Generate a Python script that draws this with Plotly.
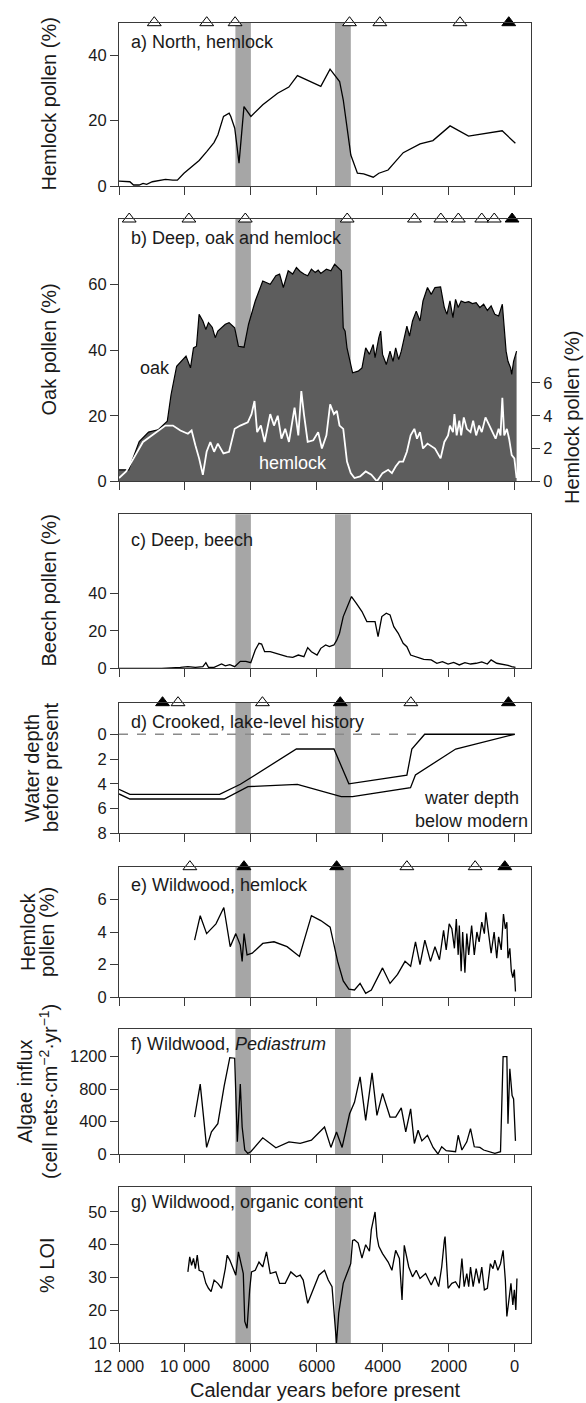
import plotly.graph_objects as go

W, H = 586, 1403
L, R = 119, 55
FONT = "Liberation Sans, Arial, Helvetica, sans-serif"

# ---------------- data ----------------
bands = [(8470, 8000), (5450, 4970)]
x_ticks = [12000, 10000, 8000, 6000, 4000, 2000, 0]
x_ticktext = ["12 000", "10 000", "8000", "6000", "4000", "2000", "0"]

# a) North, hemlock
a_years = [12000, 11840, 11670, 11560, 11390, 11270, 11160, 10990, 10820, 10590,
           10370, 10230, 10030, 9800, 9570, 9340, 9120, 9000, 8830, 8660,
           8610, 8490, 8360, 8210, 8000, 7640, 7190, 6850, 6590, 5880,
           5600, 5310, 5200, 4970, 4770, 4580, 4290, 4120, 3840, 3380,
           2870, 2480, 1960, 1400, 380, -20]
a_hemlock = [1.5, 1.3, 1.3, 0.3, 0.3, 0.8, 0.5, 1.3, 1.6, 2.0,
             1.8, 1.8, 3.9, 5.9, 7.8, 10.5, 13.3, 15.7, 21.3, 22.3,
             21.3, 17.7, 7.0, 24.3, 21.3, 24.9, 28.4, 30.3, 33.8, 30.5,
             35.8, 32.0, 26.4, 9.5, 3.9, 3.7, 2.7, 3.9, 4.9, 10.2,
             12.9, 13.9, 18.4, 15.3, 16.9, 13.1]
a_dates_open = [10930, 9340, 8480, 5010, 4090, 1660]
a_dates_filled = [180]

# b) Deep, oak and hemlock
b_oak_years = [12000, 11705, 11614, 11387, 11103, 10819, 10536, 10422, 10252, 9968,
               9832, 9741, 9650, 9571, 9457, 9366, 9287, 9173, 9082, 9003,
               8776, 8662, 8492, 8379, 8208, 8071, 7868, 7641, 7414, 7243,
               7130, 7016, 6869, 6732, 6619, 6505, 6392, 6278, 6165, 6051,
               5960, 5881, 5710, 5574, 5461, 5370, 5256, 5200, 5143, 5086,
               4916, 4746, 4632, 4519, 4405, 4291, 4235, 4121, 4064, 4008,
               3894, 3781, 3690, 3610, 3519, 3440, 3349, 3270, 3190, 3099,
               2986, 2872, 2781, 2645, 2532, 2418, 2248, 2134, 2055, 1964,
               1873, 1794, 1714, 1624, 1510, 1396, 1283, 1169, 1056, 942,
               829, 715, 602, 488, 375, 318, 261, 204, 125, 91,
               34, -57]
b_oak = [3.5, 3.5, 6, 12.1, 15, 15.7, 18.3, 26.4, 35.1, 38.2,
         34.6, 40.7, 41.2, 50.9, 48.9, 46.3, 48.4, 47, 43.8, 45.8,
         47.9, 48.4, 46.8, 41.2, 40.9, 47.9, 55, 61.1, 60.1, 62.7,
         63.2, 59.1, 64.2, 63.2, 65.2, 64, 63.2, 62.7, 64.7, 63.7,
         64.4, 63.4, 64.7, 64.2, 66.2, 65.2, 64.2, 46.8, 45.8, 40.7,
         33.1, 33.6, 34.6, 40.7, 38.7, 41.7, 37.7, 43.8, 45.8, 38.7,
         35.6, 39.7, 36.6, 40.7, 37.1, 39.7, 43.8, 47.3, 44.3, 48.9,
         51.9, 48.9, 55, 59.1, 57, 59.1, 59.3, 53, 50.9, 55,
         49.9, 55.5, 53, 55, 54.5, 54.8, 54.2, 54.5, 53, 54,
         52.1, 53.5, 50.9, 50.4, 54, 46.8, 39.7, 36.6, 34.6, 32.6,
         36.6, 39.7]
b_hem_years = [12000, 11784, 11614, 11274, 10933, 10592, 10365, 10138, 9911, 9798,
               9684, 9571, 9457, 9343, 9230, 9116, 9003, 8833, 8662, 8492,
               8322, 8095, 7982, 7891, 7811, 7698, 7584, 7414, 7300, 7186,
               7073, 6959, 6846, 6676, 6562, 6471, 6392, 6278, 6108, 5960,
               5847, 5710, 5597, 5483, 5393, 5313, 5200, 5086, 4973, 4859,
               4689, 4519, 4348, 4178, 4008, 3837, 3724, 3610, 3497, 3383,
               3270, 3156, 3043, 2963, 2872, 2781, 2645, 2418, 2248, 2134,
               2021, 1964, 1873, 1828, 1760, 1680, 1624, 1544, 1453, 1340,
               1260, 1169, 1079, 999, 886, 772, 658, 579, 488, 431,
               375, 318, 238, 170, 91, 11, -57]
b_hemlock = [0.2, 0.6, 1.2, 2.4, 2.9, 3.4, 3.4, 3.1, 2.9, 3.1,
             2.2, 1.4, 0.4, 1.8, 2.4, 1.8, 2.3, 1.7, 1.8, 3.2,
             3.4, 3.6, 4.1, 4.9, 3.0, 3.4, 2.4, 4.1, 3.4, 4.0,
             2.6, 3.2, 2.4, 4.5, 2.8, 5.5, 4.1, 2.4, 2.5, 3.0,
             2.0, 2.8, 4.7, 4.1, 4.3, 3.4, 3.2, 1.2, 0.5, 0.2,
             0.3, 0.6, 0.4, 0.0, 0.5, 0.7, 0.5, 0.9, 1.2, 1.2,
             1.8, 2.8, 3.2, 2.6, 3.0, 2.0, 2.3, 2.0, 1.4, 2.4,
             2.8, 3.4, 3.0, 4.1, 2.8, 3.7, 2.8, 3.9, 3.2, 3.0,
             3.7, 2.8, 3.4, 3.0, 3.9, 3.4, 3.0, 2.6, 3.2, 2.8,
             5.1, 2.8, 3.2, 2.6, 1.6, 1.4, 0.2]
b_dates_open = [11690, 9880, 8170, 5080, 3040, 2240, 1710, 1000, 620]
b_dates_filled = [80]

# c) Deep, beech
c_years = [12000, 11614, 10706, 10138, 9911, 9684, 9457, 9366, 9287, 9116,
           8890, 8776, 8640, 8492, 8322, 8151, 8004, 7868, 7755, 7675,
           7584, 7414, 7243, 7073, 6903, 6732, 6562, 6392, 6278, 6165,
           5994, 5881, 5733, 5620, 5483, 5393, 5313, 5200, 5086, 4950,
           4802, 4632, 4484, 4348, 4235, 4144, 4030, 3894, 3781, 3667,
           3531, 3383, 3270, 3156, 2986, 2759, 2532, 2361, 2191, 2021,
           1851, 1680, 1510, 1340, 1169, 999, 829, 715, 545, 375,
           204, 91, -23]
c_beech = [0, 0, 0, 0.5, 0.9, 0.5, 0.9, 3.0, 0.5, 0.5,
           2.3, 1.3, 2.0, 0.9, 3.75, 3.75, 3.0, 9.8, 13.4, 13.0,
           8.9, 8.9, 8.0, 7.1, 6.25, 5.9, 7.1, 6.25, 11.1, 8.9,
           7.1, 10.7, 12.5, 11.6, 12.5, 15.2, 18.8, 27.7, 33, 38.4,
           34.8, 30.4, 25, 25, 25, 17, 27.7, 29.5, 28.6, 22.3,
           18.75, 13.4, 11.6, 7.1, 6.25, 4.8, 4.5, 2.7, 3.6, 2.3,
           3.2, 1.8, 3.0, 2.3, 2.7, 3.4, 2.3, 4.5, 2.7, 2.3,
           1.6, 0.9, 0.5]

# d) Crooked, lake-level history (water depth below modern, m)
d_upper_years = [12000, 11670, 8950, 8320, 6620, 5480, 5030, 3270, 3120, 2730, 0]
d_upper = [4.45, 4.85, 4.85, 4.04, 1.19, 1.19, 4.0, 3.3, 1.2, 0, 0]
d_lower_years = [12000, 11670, 8810, 8090, 6590, 5260, 4920, 3160, 3010, 1790, 0]
d_lower = [4.82, 5.23, 5.23, 4.23, 4.04, 5.04, 5.04, 4.31, 3.29, 1.19, 0]
d_modern_level = 0
d_dates_open = [10210, 7650, 3150]
d_dates_filled = [10680, 5290, 190]

# e) Wildwood, hemlock
e_years = [9707, 9537, 9343, 9060, 8821, 8628, 8458, 8322, 8265, 8208,
           8117, 7959, 7641, 7300, 6903, 6528, 6165, 5881, 5597, 5370,
           5200, 5029, 4859, 4689, 4519, 4348, 4008, 3781, 3553, 3326,
           3156, 3009, 2872, 2725, 2554, 2418, 2282, 2157, 2078, 1987,
           1907, 1828, 1771, 1714, 1680, 1624, 1578, 1510, 1453, 1396,
           1306, 1226, 1147, 1079, 999, 920, 874, 806, 715, 624,
           545, 488, 409, 341, 284, 238, 204, 148, 102, 57,
           11, -23]
e_hemlock = [3.5, 5.0, 3.9, 4.5, 5.5, 3.1, 3.9, 3.2, 2.2, 3.9,
             2.6, 2.7, 3.3, 3.4, 3.1, 2.5, 5.0, 4.7, 4.3, 2.2,
             1.0, 0.5, 0.45, 0.85, 0.24, 0.45, 1.8, 0.85, 1.4, 2.2,
             1.9, 3.4, 2.0, 3.5, 2.2, 3.1, 2.3, 4.1, 2.9, 4.5,
             4.2, 3.0, 4.8, 2.6, 4.4, 1.6, 4.0, 1.5, 3.9, 2.6,
             4.4, 2.6, 4.0, 3.4, 4.6, 3.9, 5.2, 4.1, 2.7, 4.0,
             2.4, 3.7, 2.9, 5.1, 4.2, 4.6, 2.4, 3.0, 1.6, 1.2,
             1.7, 0.35]
e_dates_open = [9850, 3270, 1200]
e_dates_filled = [8210, 5400, 300]

# f) Wildwood, Pediastrum influx
f_years = [9707, 9537, 9343, 9196, 9003, 8810, 8640, 8492, 8412, 8322,
           8265, 8186, 8095, 8004, 7641, 7243, 6846, 6505, 6165, 5767,
           5574, 5404, 5234, 5007, 4859, 4689, 4519, 4326, 4178, 4008,
           3781, 3610, 3440, 3304, 3156, 3043, 2929, 2816, 2645, 2475,
           2327, 2214, 2078, 1907, 1794, 1714, 1601, 1453, 1340, 1226,
           1056, 942, 829, 715, 602, 431, 352, 238, 204, 148,
           79, 34, -23]
f_influx = [455, 861, 81, 272, 374, 840, 1187, 1180, 150, 861,
            333, 49, 8, 28, 199, 77, 150, 130, 170, 333,
            81, 272, 81, 495, 637, 950, 414, 1000, 475, 747,
            455, 455, 568, 272, 556, 130, 292, 162, 231, 81,
            0, 89, 41, 28, 28, 231, 49, 150, 313, 89,
            81, 49, 37, 16, 8, 28, 1200, 1200, 374, 1050,
            719, 678, 162]

# g) Wildwood, organic content (% LOI)
g_years = [9911, 9855, 9798, 9741, 9684, 9627, 9571, 9457, 9366, 9287,
           9207, 9116, 9003, 8890, 8776, 8719, 8640, 8549, 8458, 8379,
           8299, 8231, 8186, 8117, 8038, 7982, 7868, 7755, 7641, 7527,
           7414, 7243, 7130, 6959, 6789, 6619, 6505, 6414, 6278, 6108,
           5938, 5767, 5654, 5540, 5449, 5404, 5336, 5200, 5086, 4973,
           4916, 4859, 4746, 4632, 4519, 4405, 4348, 4235, 4178, 4121,
           4008, 3837, 3724, 3610, 3497, 3417, 3349, 3213, 3099, 2986,
           2872, 2702, 2532, 2418, 2305, 2214, 2134, 2112, 2021, 1907,
           1794, 1680, 1601, 1533, 1453, 1396, 1340, 1260, 1169, 1079,
           999, 920, 829, 738, 658, 602, 511, 431, 352, 284,
           238, 170, 114, 57, 11, -34, -68]
g_loi = [31.7, 36.3, 33.7, 35.8, 32.7, 36.8, 32.2, 31.7, 28.2, 26.7,
         25.7, 29.2, 28.2, 26.7, 32.7, 36.8, 35.3, 33.2, 30.7, 37.8,
         34.2, 31.2, 16.6, 14.5, 26.2, 31.7, 32.2, 34.7, 33.2, 37.8,
         31.2, 31.7, 28.2, 28.2, 31.7, 30.2, 30.7, 29.2, 22.1, 26.2,
         30.7, 32.2, 29.2, 27.2, 14.0, 10.0, 19.1, 28.2, 31.2, 34.2,
         41.3, 41.5, 40.5, 35.9, 40.0, 38.0, 44.6, 50.0, 42.5, 39.5,
         37.3, 34.7, 32.2, 38.3, 35.8, 23.1, 39.8, 33.2, 30.2, 32.2,
         29.7, 31.2, 27.7, 30.2, 27.2, 33.2, 41.3, 42.5, 26.7, 28.2,
         28.7, 26.7, 35.8, 27.2, 31.2, 27.2, 33.2, 27.2, 32.7, 28.2,
         33.2, 26.2, 26.7, 34.2, 32.7, 35.3, 32.2, 34.2, 38.3, 29.2,
         18.1, 23.1, 28.2, 21.6, 26.2, 20.1, 29.7]

# ---------------- layout helpers ----------------
def xp(px):
    return (px - L) / (W - L - R)

def yp(py):
    return 1 - py / H

# panel frame (top px, bottom px), y range, y ticks
panels = [
    dict(top=22.7, bot=186.0, rng=[0, 50], ticks=[0, 20, 40]),
    dict(top=219.0, bot=481.3, rng=[0, 80], ticks=[0, 20, 40, 60]),
    dict(top=514.3, bot=668.3, rng=[0, 82.5], ticks=[0, 20, 40]),
    dict(top=702.7, bot=833.3, rng=[8, -2.55], ticks=[0, 2, 4, 6, 8]),
    dict(top=866.7, bot=997.3, rng=[0, 8], ticks=[0, 2, 4, 6]),
    dict(top=1029.0, bot=1154.0, rng=[0, 1540], ticks=[0, 400, 800, 1200]),
    dict(top=1186.7, bot=1343.0, rng=[10, 57.7], ticks=[10, 20, 30, 40, 50]),
]
XR = [12000, -494]
LINEC = "#3a3a3a"
TXT = "#1a1a1a"

def ax_id(i):
    return "" if i == 1 else str(i)

fig = go.Figure()
layout = dict(
    width=W, height=H,
    margin=dict(l=L, r=R, t=0, b=0, autoexpand=False),
    paper_bgcolor="white", plot_bgcolor="white",
    showlegend=False, template="none", hovermode=False,
    font=dict(family=FONT, color=TXT, size=16.5),
)
common = dict(showline=True, linecolor=LINEC, linewidth=1, mirror=True,
              ticks="outside", ticklen=8, tickwidth=1, tickcolor=LINEC,
              showgrid=False, zeroline=False, automargin=False,
              tickfont=dict(family=FONT, size=16.5, color=TXT))
for i, p in enumerate(panels, start=1):
    k = ax_id(i)
    layout["xaxis" + k] = dict(common, domain=[0, 1], anchor="y" + k, range=XR,
                               tickvals=x_ticks, ticktext=x_ticktext,
                               showticklabels=(i == 7))
    layout["yaxis" + k] = dict(common, domain=[yp(p["bot"]), yp(p["top"])],
                               anchor="x" + k, range=p["rng"], tickvals=p["ticks"])
layout["yaxis8"] = dict(overlaying="y2", side="right", anchor="x2", range=[0, 16],
                        tickvals=[0, 2, 4, 6], ticks="outside", ticklen=8,
                        tickcolor=LINEC, showline=False, showgrid=False,
                        zeroline=False, automargin=False,
                        tickfont=dict(family=FONT, size=16.5, color=TXT))

def line(x, y, i, color="black", width=1.3, yaxis=None):
    k = ax_id(i)
    fig.add_trace(go.Scatter(x=x, y=y, mode="lines", xaxis="x" + k,
                             yaxis=yaxis or ("y" + k),
                             line=dict(color=color, width=width), hoverinfo="skip"))

# data traces
line(a_years, a_hemlock, 1)
fig.add_trace(go.Scatter(x=b_oak_years, y=b_oak, mode="lines", fill="tozeroy",
                         fillcolor="#5d5d5d", line=dict(color="black", width=1.2),
                         xaxis="x2", yaxis="y2", hoverinfo="skip"))
line(b_hem_years, b_hemlock, 2, color="white", width=1.8, yaxis="y8")
line(c_years, c_beech, 3)
line(d_upper_years, d_upper, 4)
line(d_lower_years, d_lower, 4)
line(e_years, e_hemlock, 5)
line(f_years, f_influx, 6)
line(g_years, g_loi, 7)

# radiocarbon date triangles above frames
def tri(dates, i, filled):
    k = ax_id(i)
    top = panels[i - 1]["rng"][1]
    fig.add_trace(go.Scatter(x=dates, y=[top] * len(dates), mode="markers",
                             xaxis="x" + k, yaxis="y" + k, cliponaxis=False,
                             marker=dict(symbol="triangle-up", size=12,
                                         color="black" if filled else "white",
                                         line=dict(color="black", width=1)),
                             hoverinfo="skip"))

for dates_o, dates_f, i in [(a_dates_open, a_dates_filled, 1),
                            (b_dates_open, b_dates_filled, 2),
                            (d_dates_open, d_dates_filled, 4),
                            (e_dates_open, e_dates_filled, 5)]:
    tri(dates_o, i, False)
    tri(dates_f, i, True)

# shapes: gray event bands and modern lake level
shapes = []
for i in range(1, 8):
    k = ax_id(i)
    for x0, x1 in bands:
        shapes.append(dict(type="rect", xref="x" + k, yref="y" + k + " domain",
                           x0=x0, x1=x1, y0=0, y1=1, fillcolor="#a6a6a6",
                           line=dict(width=0), layer="below"))
shapes.append(dict(type="line", xref="x4", yref="y4", x0=12000,
                   x1=d_upper_years[d_upper.index(0)],
                   y0=d_modern_level, y1=d_modern_level,
                   line=dict(color="#8a8a8a", width=1.3, dash="dash"), layer="above"))
layout["shapes"] = shapes

# annotations
ann = []
def text(t, px, py, size=18, angle=0, color=TXT, xanchor="center"):
    ann.append(dict(text=t, x=xp(px), y=yp(py), xref="paper", yref="paper",
                    showarrow=False, textangle=angle, xanchor=xanchor,
                    yanchor="middle", borderpad=0,
                    font=dict(family=FONT, size=size, color=color)))

labels = ["a) North, hemlock", "b) Deep, oak and hemlock", "c) Deep, beech",
          "d) Crooked, lake-level history", "e) Wildwood, hemlock",
          "f) Wildwood, <i>Pediastrum</i>", "g) Wildwood, organic content"]
label_y = [41.7, 238.3, 540.0, 721.7, 885.0, 1044.0, 1201.7]
for t, py in zip(labels, label_y):
    text(t, 130, py, size=18, xanchor="left")

TS = 20
text("Hemlock pollen (%)", 48.5, 104, TS, -90)
text("Oak pollen (%)", 48.5, 350, TS, -90)
text("Hemlock pollen (%)", 572, 418, TS, -90)
text("Beech pollen (%)", 48.5, 591, TS, -90)
text("Water depth", 32, 768, TS, -90)
text("before present", 51, 768, TS, -90)
text("Hemlock", 28, 932, TS, -90)
text("pollen (%)", 47, 932, TS, -90)
text("Algae influx", 25, 1092, TS, -90)
text("(cell nets·cm<sup>−2</sup>·yr<sup>−1</sup>)", 48, 1092, TS, -90)
text("% LOI", 47, 1265, TS, -90)
text("Calendar years before present", 325, 1390, TS)

text("oak", 154.5, 367.7, 18)
text("hemlock", 292.5, 463, 18, color="white")
text("water depth", 471, 798, 18)
text("below modern", 471, 821, 18)
layout["annotations"] = ann

fig.update_layout(**layout)
# remove the default 8px page margin so the figure sits at the window origin
fig.write_html("out.html",
               config={"displayModeBar": False, "staticPlot": True},
               post_script="document.body.style.margin='0';"
                           "document.body.style.overflow='hidden';")
